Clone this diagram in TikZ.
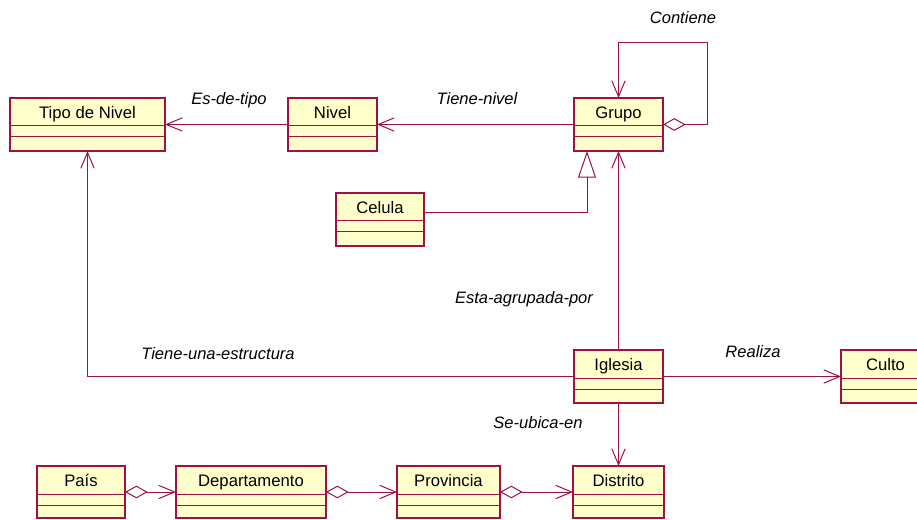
\documentclass[tikz,border=0pt]{standalone}
\usepackage{fontspec}
\setmainfont{Liberation Sans}
\usetikzlibrary{arrows.meta,calc}
\definecolor{umlred}{RGB}{160,16,64}
\definecolor{umlfill}{RGB}{255,255,204}
\tikzset{
  clsbox/.style={draw=umlred, fill=umlfill, line width=0.9pt, inner sep=0pt, outer sep=0pt},
  clstext/.style={font=\fontsize{12.5}{14}\selectfont, inner sep=0pt, anchor=base},
  lbl/.style={font=\fontsize{12.4}{14}\selectfont\itshape, inner sep=0pt},
  conn/.style={draw=umlred, line width=0.75pt},
  nav/.style={conn, -{Straight Barb[length=12pt, width=10pt, line width=0.75pt]}},
  aggnav/.style={conn, {Diamond[open, fill=white, length=17pt, width=9.5pt, line width=0.75pt]}-{Straight Barb[length=12pt, width=10pt, line width=0.75pt]}},
  gen/.style={conn, -{Triangle[open, fill=white, length=20pt, width=13.5pt, line width=0.75pt]}}
}
\newcommand{\umlclass}[6]{%
  \node[clsbox, minimum width={(#4-#2)*0.75pt}, minimum height={(#5-#3)*0.75pt}] (#1) at ({(#2+#4)/2},{(#3+#5)/2}) {};
  \node[clstext] at ({(#2+#4)/2},{#3+20.5}) {#6};
  \draw[draw=umlred, line width=0.75pt] ({#2},{#3+28}) -- ({#4},{#3+28});
  \draw[draw=umlred, line width=0.75pt] ({#2},{#3+39}) -- ({#4},{#3+39});
}
\begin{document}
\begin{tikzpicture}[x=0.75pt, y=-0.75pt]
\useasboundingbox (0,0) rectangle (917,520);
\clip (0,0) rectangle (917,520);
% classes
\umlclass{tipo}{10}{98}{165}{151}{Tipo de Nivel}
\umlclass{nivel}{288}{98}{377}{151}{Nivel}
\umlclass{grupo}{574}{98}{663}{151}{Grupo}
\umlclass{celula}{336}{193}{424}{246}{Celula}
\umlclass{iglesia}{574}{350}{663}{403}{Iglesia}
\umlclass{culto}{841}{350}{930}{403}{Culto}
\umlclass{pais}{37}{466}{125}{518}{País}
\umlclass{depto}{176}{466}{326}{518}{Departamento}
\umlclass{prov}{397}{466}{500}{518}{Provincia}
\umlclass{distrito}{573}{466}{664}{518}{Distrito}
% connectors
\draw[nav] (nivel.west) -- (tipo.east);
\draw[nav] (grupo.west) -- (nivel.east);
\draw[aggnav] (grupo.east) -- ++(44,0) |- ($(grupo.north)+(0,-55)$) -- (grupo.north);
\draw[gen] ([yshift=5.25pt]celula.east) -| ($(grupo.south)+(-31.5,0)$);
\draw[nav] (iglesia.north) -- (grupo.south);
\draw[nav] (iglesia.west) -| (tipo.south);
\draw[nav] (iglesia.east) -- (culto.west);
\draw[nav] (iglesia.south) -- (distrito.north);
\draw[aggnav] (pais.east) -- (depto.west);
\draw[aggnav] (depto.east) -- (prov.west);
\draw[aggnav] (prov.east) -- (distrito.west);
% labels
\node[lbl] (lcont) at (683,18) {Contiene};
\node[lbl] (ltipo) at (229,100) {Es-de-tipo};
\node[lbl] (lniv) at (477,99) {Tiene-nivel};
\node[lbl] (lagr) at (524,299) {Esta-agrupada-por};
\node[lbl] (lestr) at (218,354) {Tiene-una-estructura};
\node[lbl] (lreal) at (753,352) {Realiza};
\node[lbl] (lubic) at (538,423) {Se-ubica-en};
\end{tikzpicture}
\end{document}
